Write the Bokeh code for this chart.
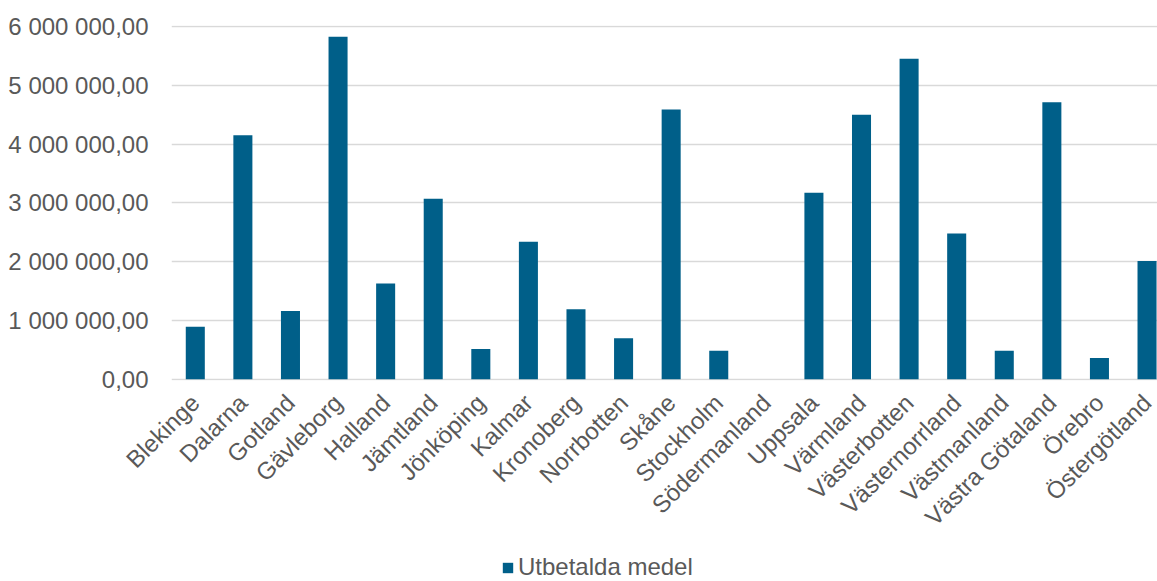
from bokeh.plotting import figure
from bokeh.layouts import column
from bokeh.models import (ColumnDataSource, Range1d, FixedTicker, Legend, LegendItem,
                          CustomJSTickFormatter)
from bokeh.embed import file_html
from bokeh.resources import INLINE
import math

# Paid-out funds per Swedish county
counties = ["Blekinge", "Dalarna", "Gotland", "Gävleborg", "Halland", "Jämtland",
            "Jönköping", "Kalmar", "Kronoberg", "Norrbotten", "Skåne", "Stockholm",
            "Södermanland", "Uppsala", "Värmland", "Västerbotten", "Västernorrland",
            "Västmanland", "Västra Götaland", "Örebro", "Östergötland"]
paid = [893000, 4150000, 1160000, 5825000, 1630000, 3070000,
        515000, 2340000, 1190000, 695000, 4590000, 486000,
        0, 3170000, 4500000, 5450000, 2480000,
        486000, 4710000, 360000, 2010000]
y_ticks = [0, 1000000, 2000000, 3000000, 4000000, 5000000, 6000000]
series_name = "Utbetalda medel"

BAR = "#005f89"
GRID = "#d9d9d9"
TEXT = "#595959"
FONT = "Liberation Sans"
FS = "24px"
W = 1157
MAIN_H = 548
LEG_H = 33

xs = [i + 0.5 for i in range(len(counties))]
src = ColumnDataSource(dict(x=xs, top=paid, name=counties))

p = figure(width=W, height=MAIN_H, output_backend="svg", toolbar_location=None,
           x_range=Range1d(0, 20.72), y_range=Range1d(-22000, 6017000),
           min_border_left=171, min_border_right=0, min_border_top=25,
           min_border_bottom=MAIN_H - 380)
p.outline_line_color = None
p.background_fill_color = "white"
p.border_fill_color = "white"

p.vbar(x="x", top="top", bottom=0, width=0.40, source=src,
       fill_color=BAR, line_color=None)

# axes
p.xaxis.ticker = FixedTicker(ticks=xs)
p.xaxis.major_label_overrides = {x: n for x, n in zip(xs, counties)}
p.xaxis.major_label_orientation = math.pi / 4
p.xaxis.axis_line_color = None
p.xaxis.major_tick_line_color = None
p.xaxis.minor_tick_line_color = None
p.xaxis.major_label_text_font = FONT
p.xaxis.major_label_text_font_size = FS
p.xaxis.major_label_text_color = TEXT
p.xaxis.major_label_standoff = 12

p.yaxis.ticker = FixedTicker(ticks=y_ticks)
p.yaxis.formatter = CustomJSTickFormatter(code="""
    const s = Math.round(tick).toString().replace(/\\B(?=(\\d{3})+(?!\\d))/g, ' ');
    return s + ',00';
""")
p.yaxis.axis_line_color = None
p.yaxis.major_tick_line_color = None
p.yaxis.minor_tick_line_color = None
p.yaxis.major_label_text_font = FONT
p.yaxis.major_label_text_font_size = FS
p.yaxis.major_label_text_color = TEXT
p.yaxis.major_label_standoff = 17

p.xgrid.grid_line_color = None
p.ygrid.ticker = FixedTicker(ticks=y_ticks)
p.ygrid.grid_line_color = GRID
p.ygrid.grid_line_width = 1.5

# legend strip underneath the chart; its bars sit outside the visible range,
# only the legend key is shown (the column aligns its frame with the chart's)
lf = figure(width=W, height=LEG_H, output_backend="svg", toolbar_location=None,
            x_range=Range1d(-100, -99), y_range=Range1d(0, 1),
            x_axis_location=None, y_axis_location=None,
            min_border=0, outline_line_color=None)
lf.grid.visible = False
key = lf.vbar(x="x", top="top", bottom=0, width=0.40, source=src,
              fill_color=BAR, line_color=None)
legend = Legend(items=[LegendItem(label=series_name, renderers=[key])],
                location=(330, 0), orientation="horizontal",
                label_text_font=FONT, label_text_font_size=FS,
                label_text_color=TEXT, glyph_width=13, glyph_height=13,
                label_standoff=4, padding=0, margin=0, spacing=0,
                background_fill_alpha=0, border_line_color=None)
lf.add_layout(legend, "center")

open("out.html", "w").write(file_html(column(p, lf, spacing=0), INLINE))
